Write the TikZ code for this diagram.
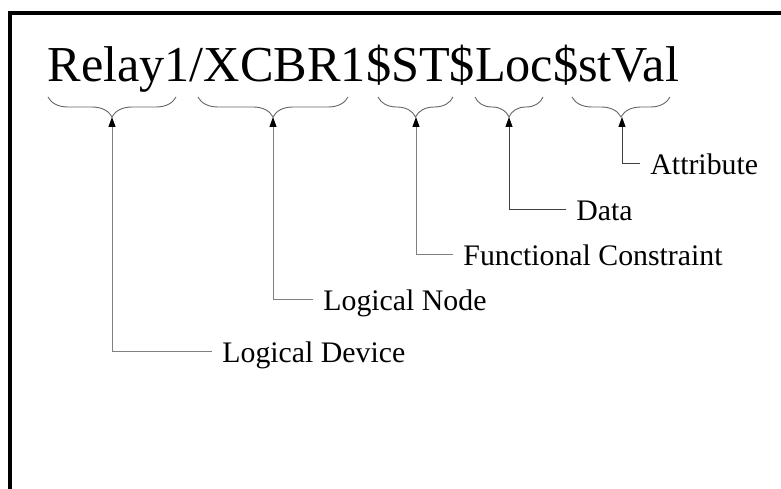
\documentclass[tikz,border=0pt]{standalone}
\usepackage{fontspec}
\setmainfont{Liberation Serif}
\usetikzlibrary{arrows.meta,decorations.pathreplacing,positioning}

\begin{document}
\begin{tikzpicture}[x=1pt,y=-1pt,
	   line width=0.9pt, text=black,
	   >={Triangle[length=10pt,width=7pt,color=black]},
	   every node/.style={inner sep=0pt},
	   part/.style = {decorate, decoration={brace,mirror,amplitude=20pt}, draw=black!60},
	   tag/.style = {anchor=west, font=\fontsize{29.8pt}{30pt}\selectfont,
	                 inner xsep=10pt, text height=23pt, text depth=0pt},
	   pointer/.style = {->, draw=#1}]
	\useasboundingbox (0,0) rectangle (781,489);

	%% Frame
	\draw[line width=3.4pt] (10,489) -- (10,13) -- (781,13);

	%% Object reference
	\node[anchor=base west, font=\fontsize{50.3pt}{51pt}\selectfont] (addr) at (47,82) {Relay1/XCBR1\$ST\$Loc\$stVal};

	%% Braces under the parts
	\draw[part] (48,97) -- (176,97);
	\draw[part] (198,97) -- (348,97);
	\draw[part] (378,97) -- (453,97);
	\draw[part] (475,97) -- (543,97);
	\draw[part] (572,97) -- (670,97);
	\coordinate (dev_tip) at (112,117);
	\coordinate (ln_tip) at (273,117);
	\coordinate (fc_tip) at (416,117);
	\coordinate (data_tip) at (509,117);
	\coordinate (attr_tip) at (622,117);

	%% Labels
	\node[tag] (dev) at (212,351) {Logical Device};
	\node[tag] (ln) at (313,299) {Logical Node};
	\node[tag] (fc) at (453,254) {Functional Constraint};
	\node[tag] (data) at (566,209) {Data};
	\node[tag] (attr) at (640,163) {Attribute};

	%% Pointers
	\draw[pointer=black!50] (dev.west) -| (dev_tip);
	\draw[pointer=black!50] (ln.west) -| (ln_tip);
	\draw[pointer=black!50] (fc.west) -| (fc_tip);
	\draw[pointer=black!75] (data.west) -| (data_tip);
	\draw[pointer=black!75] (attr.west) -| (attr_tip);
\end{tikzpicture}
\end{document}
